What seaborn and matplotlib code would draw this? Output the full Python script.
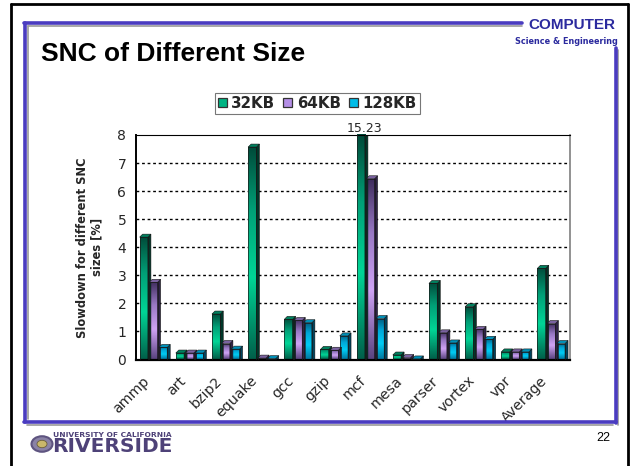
import numpy as np
import pandas as pd
import matplotlib
matplotlib.use("Agg")
import matplotlib.pyplot as plt
import seaborn as sns
from matplotlib.colors import LinearSegmentedColormap
from matplotlib.patches import Polygon, Rectangle, Circle, Patch
from matplotlib.lines import Line2D
from matplotlib.transforms import ScaledTranslation

# ---------------- data ----------------
benchmarks = ["ammp", "art", "bzip2", "equake", "gcc", "gzip", "mcf",
              "mesa", "parser", "vortex", "vpr", "Average"]
sizes = ["32KB", "64KB", "128KB"]
slow_32kb = [4.36, 0.23, 1.62, 7.57, 1.43, 0.36, 15.23, 0.16, 2.71, 1.88, 0.27, 3.25]
slow_64kb = [2.75, 0.23, 0.57, 0.05, 1.39, 0.33, 6.44, 0.07, 0.95, 1.07, 0.27, 1.28]
slow_128kb = [0.43, 0.23, 0.37, 0.03, 1.31, 0.84, 1.46, 0.02, 0.59, 0.72, 0.27, 0.57]
y_ticks = [0, 1, 2, 3, 4, 5, 6, 7, 8]
title_text = "SNC of Different Size"
ylabel_text = "Slowdown for different SNC\nsizes [%]"
page_number = "22"

df = pd.DataFrame({
    "bench": benchmarks * 3,
    "size": [sizes[0]] * 12 + [sizes[1]] * 12 + [sizes[2]] * 12,
    "value": slow_32kb + slow_64kb + slow_128kb,
})

face_cols = {"32KB": "#00b483", "64KB": "#b48ee6", "128KB": "#00bde8"}
grad = {
    "32KB": ["#00604a", "#00d596", "#00a077", "#004a39"],
    "64KB": ["#5a4480", "#cfa3f5", "#9878c4", "#3e2c5c"],
    "128KB": ["#0078a0", "#00ccf4", "#00a8d8", "#005a7c"],
}
side_cols = {"32KB": "#003628", "64KB": "#2e2246", "128KB": "#00445e"}
top_cols = {"32KB": "#00805e", "64KB": "#7a62a0", "128KB": "#0090b8"}

W, H = 630, 466
fig = plt.figure(figsize=(W / 100, H / 100), dpi=100)
fig.patch.set_facecolor("white")
sns.set_style("white")

ax = fig.add_axes([136 / W, 1 - 359.5 / H, 434 / W, 224.5 / H])
sns.barplot(data=df, x="bench", y="value", hue="size", order=benchmarks,
            hue_order=sizes, palette=face_cols, width=0.8, ax=ax,
            legend=False, errorbar=None, saturation=1.0, linewidth=0)

ax.set_ylim(0, 8)
ax.set_xlim(-0.5, len(benchmarks) - 0.5)
ax.set_yticks(y_ticks)
ax.set_yticklabels([str(t) for t in y_ticks], fontsize=10, family="DejaVu Sans")
ax.set_xlabel("")
ax.set_ylabel(ylabel_text, fontsize=8.3, fontweight="bold", family="DejaVu Sans",
              labelpad=10, linespacing=1.15)

# grid lines (dotted)
for t in y_ticks[1:-1]:
    ax.axhline(t, color="black", lw=1.0, ls=(0, (2, 2)), zorder=0.5)

# x ticks between categories
ax.set_xticks(np.arange(len(benchmarks)))
ax.set_xticklabels(benchmarks, rotation=45, ha="right", rotation_mode="anchor",
                   fontsize=10.2, family="DejaVu Sans")
ax.set_xticks(np.arange(-0.5, len(benchmarks)), minor=True)
ax.tick_params(axis="x", which="major", length=0, pad=8)
ax.tick_params(axis="x", which="minor", length=5, width=1, color="black", direction="out")
ax.tick_params(axis="y", length=4, width=1, direction="out", pad=3, color="black")
shift = ScaledTranslation(-12 / 100, -3 / 100, fig.dpi_scale_trans)
for lab in ax.get_xticklabels():
    lab.set_transform(lab.get_transform() + shift)

for s in ["top", "bottom", "left"]:
    ax.spines[s].set_color("black")
ax.spines["bottom"].set_linewidth(1.6)
ax.spines["left"].set_linewidth(1.4)
ax.spines["top"].set_linewidth(0.8)
ax.spines["right"].set_color("#7f7f7f")
ax.spines["right"].set_linewidth(1.2)
ax.set_facecolor("white")

# gradient fill + pseudo 3D faces derived from each seaborn bar
fig.canvas.draw()
n = len(benchmarks)
bars = [p for p in ax.patches if isinstance(p, Rectangle) and p.get_width() > 0][: 3 * n]
for i, p in enumerate(bars):
    s = sizes[i // n]
    cm = LinearSegmentedColormap.from_list(
        s, list(zip([0.0, 0.38, 0.7, 1.0], grad[s])))
    x0, w, h = p.get_x(), p.get_width(), p.get_height()
    w_front = w * 0.86
    p.set_width(w_front)
    p.set_facecolor("none")
    hh = min(h, 8.0)
    g = np.linspace(0, 1, 128).reshape(-1, 1)
    im = ax.imshow(g, cmap=cm, origin="lower", aspect="auto",
                   extent=[x0, x0 + w_front, 0, hh], zorder=2, interpolation="bilinear")
    im.set_clip_path(p)
    p.set_edgecolor("#1a1a1a")
    p.set_linewidth(0.5)
    p.set_zorder(3)
    # side and top faces in display pixels
    (ax_l, ay_b) = ax.transData.transform((x0 + w_front, 0))
    (ax_r, ay_t) = ax.transData.transform((x0 + w_front, hh))
    (fx_l, _) = ax.transData.transform((x0, hh))
    d = 3.0
    side = Polygon([(ax_l, ay_b), (ax_l + d, ay_b), (ax_l + d, ay_t + d),
                    (ax_r, ay_t)], closed=True, transform=None,
                   facecolor=side_cols[s], edgecolor="#111111", lw=0.4, zorder=2.5)
    side.set_clip_path(ax.patch)
    ax.add_artist(side)
    if h < 8.0:
        top = Polygon([(fx_l, ay_t), (fx_l + d, ay_t + d), (ax_r + d, ay_t + d),
                       (ax_r, ay_t)], closed=True, transform=None,
                      facecolor=top_cols[s], edgecolor="#111111", lw=0.4, zorder=2.5)
        top.set_clip_path(ax.patch)
        ax.add_artist(top)

# value label for clipped bar
mcf_i = benchmarks.index("mcf")
mp = bars[mcf_i]
ax.annotate(f"{slow_32kb[mcf_i]:.2f}", xy=(mp.get_x() + mp.get_width() / 2 + 0.1, 8.0),
            xytext=(0, 0), textcoords="offset points", ha="center", va="bottom",
            fontsize=9, family="DejaVu Sans", annotation_clip=False)

# legend (manual handles)
handles = [Patch(facecolor=face_cols[s], edgecolor="#333333", lw=0.9, label=s) for s in sizes]
leg = fig.legend(handles=handles, loc="center", bbox_to_anchor=(317 / W, 1 - 103.5 / H),
                 ncol=3, frameon=True, fancybox=False, edgecolor="#555555",
                 prop={"family": "DejaVu Sans", "weight": "bold", "size": 10.8},
                 handlelength=0.6, handleheight=0.6, handletextpad=0.3,
                 columnspacing=0.55, borderpad=0.2, borderaxespad=0)
leg.get_frame().set_linewidth(0.8)

# ---------------- slide decorations ----------------
def fx(x):
    return x / W

def fy(y):
    return 1 - y / H

blue = "#4a3cc0"
# outer black border
fig.add_artist(Line2D([fx(11), fx(11)], [fy(4), fy(470)], color="black", lw=2))
fig.add_artist(Line2D([fx(11), fx(628)], [fy(4), fy(4)], color="black", lw=2))
fig.add_artist(Line2D([fx(628), fx(628)], [fy(4), fy(470)], color="black", lw=2))
# grey shadow lines of the frame
fig.add_artist(Line2D([fx(28), fx(28)], [fy(26), fy(419)], color="#9a9a9a", lw=1.2))
fig.add_artist(Line2D([fx(28), fx(522)], [fy(26), fy(26)], color="#9a9a9a", lw=1.2))
fig.add_artist(Line2D([fx(27), fx(613)], [fy(425), fy(425)], color="#9a9a9a", lw=1.2))
fig.add_artist(Line2D([fx(618), fx(618)], [fy(50), fy(425)], color="#9a9a9a", lw=1.2))
# blue frame
fig.add_artist(Line2D([fx(25), fx(25)], [fy(23), fy(422)], color=blue, lw=2.6))
fig.add_artist(Line2D([fx(24), fx(522)], [fy(23), fy(23)], color=blue, lw=2.6))
fig.add_artist(Line2D([fx(24), fx(616)], [fy(422), fy(422)], color=blue, lw=2.6))
fig.add_artist(Line2D([fx(616), fx(616)], [fy(48), fy(423)], color=blue, lw=2.6))

fig.text(fx(615), fy(25), "COMPUTER", ha="right", va="center", color="#2b2a9e",
         fontsize=11, fontweight="bold", family="Liberation Sans")
fig.text(fx(618), fy(42), "Science & Engineering", ha="right", va="center",
         color="#2b2a9e", fontsize=5.9, fontweight="bold", family="Liberation Sans Narrow")

fig.text(fx(41), fy(54), title_text, ha="left", va="center", fontsize=19,
         fontweight="bold", family="Liberation Sans", color="black")

# logo
fig.add_artist(Circle((fx(42), fy(444)), 10.5 / W, transform=fig.transFigure,
                      facecolor="#8a82a6", edgecolor="#5e5480", lw=1.5))
fig.add_artist(Circle((fx(42), fy(444)), 5 / W, transform=fig.transFigure,
                      facecolor="#c9b76a", edgecolor="#6b5f3a", lw=0.6))
fig.text(fx(53), fy(435), "UNIVERSITY OF CALIFORNIA", ha="left", va="center",
         fontsize=5.4, fontweight="bold", color="#4e4278", family="DejaVu Sans")
fig.text(fx(52), fy(446), "RIVERSIDE", ha="left", va="center", fontsize=14.5,
         fontweight="bold", color="#4e4278", family="Liberation Sans Narrow")
fig.text(fx(603.5), fy(438), page_number, ha="center", va="center", fontsize=9,
         family="Liberation Sans", color="black")

fig.savefig("out.png", dpi=100, facecolor="white")
